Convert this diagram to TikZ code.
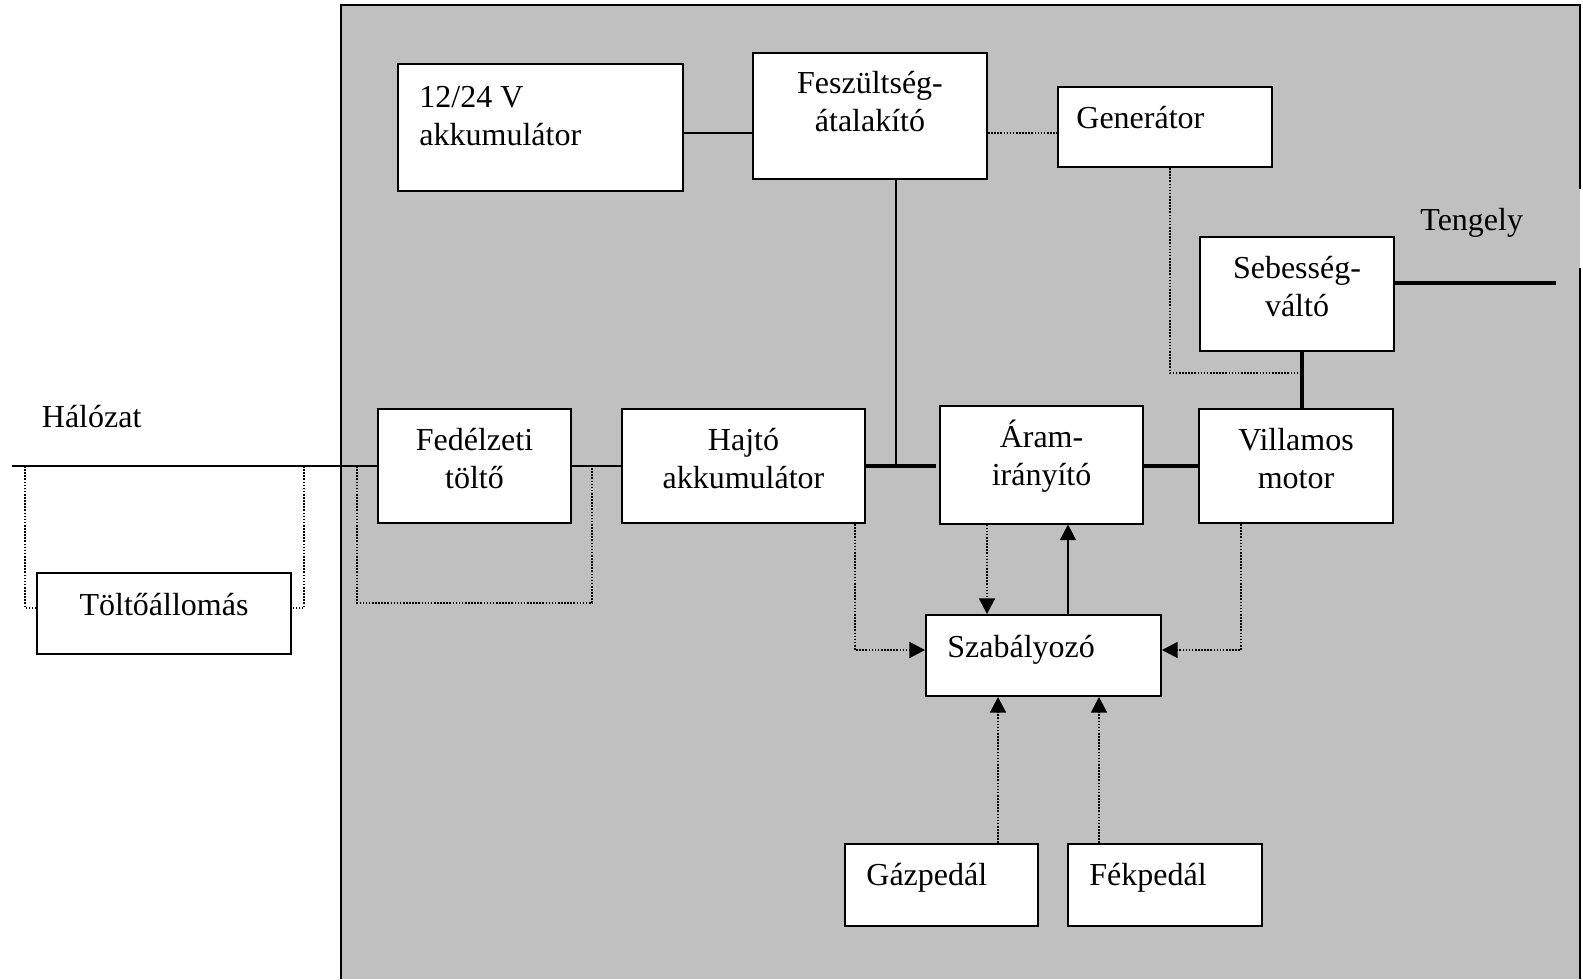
\documentclass[tikz,border=0pt]{standalone}
\usepackage{fontspec}
\setmainfont{Liberation Serif}
\usetikzlibrary{arrows.meta,calc}
\definecolor{panel}{RGB}{192,192,192}
\begin{document}
\begin{tikzpicture}[x=0.5pt,y=-0.5pt,
  box/.style={draw, line width=1pt, fill=white, inner sep=0pt},
  lbl/.style={inner sep=0pt, font=\fontsize{16}{19}\selectfont},
  lbl2/.style={lbl, align=center, anchor=north},
  wire/.style={line width=1pt},
  bus/.style={line width=2.2pt},
  dot/.style={line width=0.8pt, dash pattern=on 0.8pt off 0.75pt},
  tip/.style={-{Triangle[length=7.8pt,width=8pt]}}]
\useasboundingbox (0,0) rectangle (1583,979);

% vehicle panel
\fill[panel] (341,5) rectangle (1580,979);
\draw[wire] (341,979) -- (341,5) -- (1580,5) -- (1580,189);
\draw[wire] (1580,268) -- (1580,979);

% blocks
\node[box, minimum width=142.5pt, minimum height=63.5pt] (acc)   at (540.5,127.5) {};
\node[box, minimum width=117pt,   minimum height=63pt]   (fesz)  at (870,116) {};
\node[box, minimum width=107pt,   minimum height=40pt]   (gen)   at (1165,127) {};
\node[box, minimum width=97pt,    minimum height=57pt]   (seb)   at (1297,294) {};
\node[box, minimum width=96.5pt,  minimum height=57pt]   (fed)   at (474.5,466) {};
\node[box, minimum width=121.5pt, minimum height=57pt]   (hajto) at (743.5,466) {};
\node[box, minimum width=101.5pt, minimum height=59pt]   (aram)  at (1041.5,464.5) {};
\node[box, minimum width=97pt,    minimum height=57pt]   (vill)  at (1296,466) {};
\node[box, minimum width=117.5pt, minimum height=40.5pt] (szab)  at (1043.5,655.5) {};
\node[box, minimum width=96.5pt,  minimum height=41pt]   (gaz)   at (941.5,885) {};
\node[box, minimum width=97pt,    minimum height=41pt]   (fek)   at (1165,885) {};
\node[box, minimum width=127pt,   minimum height=40.5pt] (tolt)  at (164,613.5) {};

% labels
\node[lbl2, align=left, anchor=north west] (acct) at (419,75) {\rule{0pt}{16pt}12/24 V\\akkumulátor};
\node[lbl2] (feszt)  at (870,61)    {\rule{0pt}{16pt}Feszültség-\\átalakító};
\node[lbl2] (sebt)   at (1297,246)  {\rule{0pt}{16pt}Sebesség-\\váltó};
\node[lbl2] (fedt)   at (474.5,418) {\rule{0pt}{16pt}Fedélzeti\\töltő};
\node[lbl2] (hajtot) at (743.5,418) {\rule{0pt}{16pt}Hajtó\\akkumulátor};
\node[lbl2] (aramt)  at (1041.5,415){\rule{0pt}{16pt}Áram-\\irányító};
\node[lbl2] (villt)  at (1296,418)  {\rule{0pt}{16pt}Villamos\\motor};
\node[lbl, anchor=base west] (gent)  at (1076,128) {Generátor};
\node[lbl, anchor=base west] (tengt) at (1420,230) {Tengely};
\node[lbl, anchor=base west] (halot) at (41.5,427) {Hálózat};
\node[lbl, anchor=base]      (toltt) at (164,615)  {Töltőállomás};
\node[lbl, anchor=base west] (szabt) at (947,657)  {Szabályozó};
\node[lbl, anchor=base west] (gazt)  at (866,885)  {Gázpedál};
\node[lbl, anchor=base west] (fekt)  at (1089,885) {Fékpedál};

% mains line and charging paths
\coordinate (grid) at (12,466);
\draw[wire] (grid) -- (fed.west);
\draw[wire] (fed.east) -- (hajto.west);
\coordinate (fl) at (357,466);
\coordinate (fr) at (592,466);
\draw[dot] (fl) -- ++(0,137) -| (fr);
\coordinate (tl) at (25,466);
\coordinate (tr) at (304,466);
\draw[dot] (tl) |- ([yshift=2.75pt]tolt.west);
\draw[dot] (tr) |- ([yshift=2.75pt]tolt.east);

% low-voltage side
\draw[wire] ([yshift=-2.75pt]acc.east) -- ([yshift=-2.75pt]acc.east -| fesz.west);
\draw[dot] ([yshift=-2.75pt]acc.east -| fesz.east) -- ([yshift=-2.75pt]acc.east -| gen.west);
\draw[wire] ([xshift=13pt]fesz.south) -- ([xshift=13pt]fesz.south |- hajto.east);

% traction bus and drivetrain
\draw[bus] (hajto.east) -- ([xshift=-1.5pt]hajto.east -| aram.west);
\draw[bus] (vill.west) -- (vill.west -| aram.east);
\draw[bus] ([xshift=2.5pt]seb.south) -- ([xshift=2.5pt]seb.south |- vill.north);
\coordinate (axle) at (1556,283);
\draw[bus] (axle -| seb.east) -- (axle);
\coordinate (genjoin) at (1302,373);
\draw[dot] ([xshift=2.5pt]gen.south) |- (genjoin);

% control signals
\draw[dot,tip] ([xshift=55.75pt]hajto.south) |- ([yshift=2.75pt]szab.west);
\draw[dot,tip] ([xshift=-27.25pt]aram.south) -- ([xshift=-27.25pt]aram.south |- szab.north);
\draw[wire,tip] ([xshift=12.25pt]szab.north) -- ([xshift=12.25pt]szab.north |- aram.south);
\draw[dot,tip] ([xshift=-27.5pt]vill.south) |- ([yshift=2.75pt]szab.east);
\draw[dot,tip] ([xshift=28.25pt]gaz.north) -- ([xshift=28.25pt]gaz.north |- szab.south);
\draw[dot,tip] ([xshift=-33pt]fek.north) -- ([xshift=-33pt]fek.north |- szab.south);
\end{tikzpicture}
\end{document}
